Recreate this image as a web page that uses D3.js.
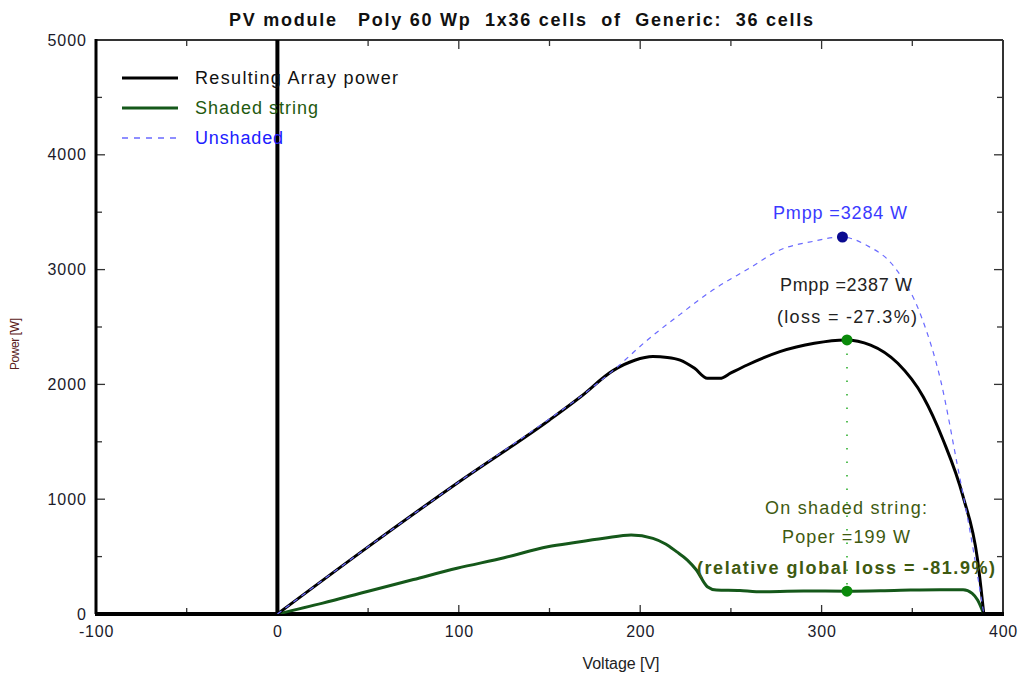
<!DOCTYPE html>
<html><head><meta charset="utf-8">
<script src="https://cdn.jsdelivr.net/npm/d3@7"></script>
<style>
body{margin:0;background:#fff;}
svg{display:block;font-family:"Liberation Sans",Arial,sans-serif;}
</style></head>
<body><svg id="c" width="1023" height="682"></svg>
<script>
const titleText = "PV module   Poly 60 Wp  1x36 cells  of  Generic:  36 cells";
const xTicks = [-100, 0, 100, 200, 300, 400];
const yTicks = [0, 1000, 2000, 3000, 4000, 5000];
// Unshaded array P-V curve [V, W]
const unshadedV = [0, 50, 100, 150, 167, 185, 204, 222, 240, 260, 277, 295, 311, 325, 340, 355, 366, 375, 382, 389.4];
const unshadedP = [0, 585, 1150, 1700, 1893, 2120, 2387, 2610, 2822, 3010, 3171, 3245, 3284, 3210, 3025, 2590, 2010, 1283, 705, 0];
// Resulting array power [V, W]
const resultV = [0, 0, 50, 100, 150, 167, 185, 197, 207, 215, 222, 230, 237, 244, 250, 259, 277, 296, 313, 327, 342, 356, 367, 378, 386, 389.4];
const resultP = [5100, 0, 585, 1150, 1690, 1890, 2120, 2210, 2242, 2235, 2212, 2140, 2053, 2053, 2100, 2169, 2285, 2358, 2387, 2343, 2184, 1893, 1516, 1022, 470, 0];
// Shaded string [V, W]
const shadedV = [0, 25, 49, 75, 99, 125, 149, 165, 180, 195, 207, 214, 220, 226, 231, 237, 242, 255, 264, 290, 314, 340, 365, 378, 383, 386, 389.4];
const shadedP = [0, 95, 194, 300, 398, 490, 586, 625, 659, 688, 659, 610, 543, 470, 383, 238, 209, 205, 194, 200, 199, 205, 212, 212, 180, 122, 0];
// MPP markers
const mppUnshaded = {v: 311.5, p: 3284};
const mppResult = {v: 314, p: 2387};
const operShaded = {v: 314, p: 199};
const legendNames = ["Resulting Array power", "Shaded string", "Unshaded"];

const svg = d3.select("#c");
const L = 96, R = 1003, T = 40, B = 614;
const x = d3.scaleLinear().domain([-100, 400]).range([L, R]);
const y = d3.scaleLinear().domain([0, 5000]).range([B, T]);

svg.append("defs").append("clipPath").attr("id","clip")
  .append("rect").attr("x",L).attr("y",T).attr("width",R-L).attr("height",B-T);

// title
svg.append("text").attr("x", 521).attr("y", 26).attr("text-anchor","middle")
  .attr("font-weight","bold").attr("font-size",18).attr("fill","#111")
  .attr("textLength",584).attr("lengthAdjust","spacing")
  .style("white-space","pre").attr("xml:space","preserve").text(titleText);

// frame top/right thin
svg.append("line").attr("x1",L).attr("x2",R).attr("y1",T).attr("y2",T).attr("stroke","#333").attr("stroke-width",2);
svg.append("line").attr("x1",R).attr("x2",R).attr("y1",T).attr("y2",B).attr("stroke","#333").attr("stroke-width",2);

// ticks inward
const xMinor = d3.range(-100, 401, 50);
const yMinor = d3.range(0, 5001, 500);
const tk = svg.append("g").attr("stroke","#333").attr("stroke-width",1.3);
xMinor.forEach(v => {
  const major = v % 100 === 0;
  const len = major ? 9 : 6;
  tk.append("line").attr("x1",x(v)).attr("x2",x(v)).attr("y1",B).attr("y2",B-len);
  tk.append("line").attr("x1",x(v)).attr("x2",x(v)).attr("y1",T).attr("y2",T+len);
});
yMinor.forEach(p => {
  const major = p % 1000 === 0;
  const len = major ? 9 : 6;
  tk.append("line").attr("x1",L).attr("x2",L+len).attr("y1",y(p)).attr("y2",y(p));
  tk.append("line").attr("x1",R).attr("x2",R-len).attr("y1",y(p)).attr("y2",y(p));
});

// axes via d3 for labels
const fmt = d => String(d);
const xAxis = svg.append("g").attr("transform",`translate(0,${B})`)
  .call(d3.axisBottom(x).tickValues(xTicks).tickSize(0).tickPadding(12).tickFormat(fmt));
xAxis.select(".domain").remove();
xAxis.selectAll("text").attr("font-size",16).attr("letter-spacing","0.8px").attr("fill","#1a1a2a").attr("font-family","Liberation Sans, Arial, sans-serif");
const yAxis = svg.append("g").attr("transform",`translate(${L},0)`)
  .call(d3.axisLeft(y).tickValues(yTicks).tickSize(0).tickPadding(9).tickFormat(fmt));
yAxis.select(".domain").remove();
yAxis.selectAll("text").attr("font-size",16).attr("letter-spacing","1px").attr("fill","#1a1a2a").attr("font-family","Liberation Sans, Arial, sans-serif");

// thick left/bottom axis lines
svg.append("line").attr("x1",L).attr("x2",L).attr("y1",T-1).attr("y2",B).attr("stroke","#000").attr("stroke-width",3);
svg.append("line").attr("x1",L-1).attr("x2",R+1).attr("y1",B).attr("y2",B).attr("stroke","#000").attr("stroke-width",4);

// axis titles
svg.append("text").attr("x", 621).attr("y", 669).attr("text-anchor","middle")
  .attr("font-size",16).attr("fill","#222").attr("textLength",77).attr("lengthAdjust","spacing").text("Voltage [V]");
svg.append("text").attr("transform","translate(19,344) rotate(-90)").attr("text-anchor","middle")
  .attr("font-size",12).attr("fill","#5a2020").attr("textLength",52).attr("lengthAdjust","spacing").text("Power [W]");

const line = d3.line().x(d => x(d[0])).y(d => y(d[1]));
const curve = d3.line().x(d => x(d[0])).y(d => y(d[1])).curve(d3.curveMonotoneX);
const g = svg.append("g").attr("clip-path","url(#clip)");

const unshaded = unshadedV.map((v,i) => [v, unshadedP[i]]);
const result = resultV.map((v,i) => [v, resultP[i]]);
const shaded = shadedV.map((v,i) => [v, shadedP[i]]);

g.append("path").datum(shaded).attr("d", curve).attr("fill","none")
  .attr("stroke","#15581a").attr("stroke-width",3);
g.append("path").datum(result.slice(0,2)).attr("d", line).attr("fill","none")
  .attr("stroke","#000").attr("stroke-width",4);
g.append("path").datum(result.slice(1)).attr("d", curve).attr("fill","none")
  .attr("stroke","#000").attr("stroke-width",3);
g.append("path").datum(unshaded).attr("d", curve).attr("fill","none")
  .attr("stroke","#6a6aff").attr("stroke-width",1.2).attr("stroke-dasharray","5,5");

// vertical dotted marker line
svg.append("line").attr("x1",x(mppResult.v)).attr("x2",x(mppResult.v))
  .attr("y1",y(mppResult.p)).attr("y2",y(operShaded.p))
  .attr("stroke","#22aa22").attr("stroke-width",1.5).attr("stroke-dasharray","1.5,12");

// markers
svg.append("circle").attr("cx",x(mppUnshaded.v)).attr("cy",y(mppUnshaded.p)).attr("r",5.5).attr("fill","#0a0a90");
svg.append("circle").attr("cx",x(mppResult.v)).attr("cy",y(mppResult.p)).attr("r",5.5).attr("fill","#0a8a0a");
svg.append("circle").attr("cx",x(operShaded.v)).attr("cy",y(operShaded.p)).attr("r",5.5).attr("fill","#0a8a0a");

// annotations
const ann = svg.append("g").attr("font-size",18).attr("text-anchor","middle");
const annotations = [
  {t:"Pmpp =3284 W", x:840, y:219, c:"#3a3aff", w:134, b:false},
  {t:"Pmpp =2387 W", x:846, y:291, c:"#222", w:132, b:false},
  {t:"(loss = -27.3%)", x:847, y:323, c:"#222", w:140, b:false},
  {t:"On shaded string:", x:846, y:514, c:"#3e5a10", w:162, b:false},
  {t:"Poper =199 W", x:846, y:543, c:"#3e5a10", w:128, b:false},
  {t:"(relative global loss = -81.9%)", x:846, y:574, c:"#3e5a10", w:298, b:true}
];
annotations.forEach(a => {
  ann.append("text").attr("x",a.x).attr("y",a.y).attr("fill",a.c)
    .attr("font-weight", a.b ? "bold" : "normal")
    .attr("textLength",a.w).attr("lengthAdjust","spacing").text(a.t);
});

// legend
const lg = svg.append("g");
const legStyles = [
  {stroke:"#000", w:3, dash:null, txt:"#111", len:203},
  {stroke:"#15581a", w:3, dash:null, txt:"#1f5a10", len:123},
  {stroke:"#6a6aff", w:1.5, dash:"6,6", txt:"#2020ff", len:88}
];
legendNames.forEach((n,i) => {
  const yy = 78 + i*30;
  const s = legStyles[i];
  lg.append("line").attr("x1",122).attr("x2",178).attr("y1",yy).attr("y2",yy)
    .attr("stroke",s.stroke).attr("stroke-width",s.w).attr("stroke-dasharray",s.dash);
  lg.append("text").attr("x",195).attr("y",yy+6).attr("font-size",18).attr("fill",s.txt)
    .attr("textLength",s.len).attr("lengthAdjust","spacing").text(n);
});
</script>
</body></html>
